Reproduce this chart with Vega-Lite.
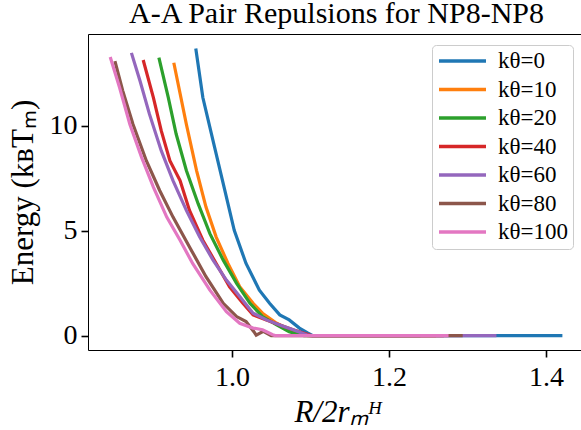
{
  "$schema": "https://vega.github.io/schema/vega-lite/v6.json",
  "width": 497,
  "height": 316,
  "autosize": {"type": "none"},
  "padding": {"left": 88, "top": 34, "right": 0, "bottom": 80},
  "background": "white",
  "title": {"text": "A-A Pair Repulsions for NP8-NP8", "font": "Liberation Serif", "fontSize": 30, "fontWeight": "normal", "color": "black", "anchor": "middle", "offset": 5},
  "config": {
    "view": {"stroke": "black", "strokeWidth": 1},
    "axis": {"grid": false, "domain": false, "tickColor": "black", "tickWidth": 1.6, "tickSize": 7, "labelFont": "Liberation Serif", "labelFontSize": 28, "labelColor": "black", "titleFont": "Liberation Serif", "titleFontSize": 31, "titleFontWeight": "normal", "titleColor": "black"}
  },
  "data": {"values": [
    {"k":"kθ=0","x":0.954,"y":13.69},{"k":"kθ=0","x":0.963,"y":11.35},{"k":"kθ=0","x":0.978,"y":8.97},{"k":"kθ=0","x":0.991,"y":6.92},{"k":"kθ=0","x":1.003,"y":5.02},{"k":"kθ=0","x":1.018,"y":3.44},{"k":"kθ=0","x":1.035,"y":2.17},{"k":"kθ=0","x":1.048,"y":1.54},{"k":"kθ=0","x":1.061,"y":0.99},{"k":"kθ=0","x":1.073,"y":0.75},{"k":"kθ=0","x":1.086,"y":0.36},{"k":"kθ=0","x":1.097,"y":0.12},{"k":"kθ=0","x":1.103,"y":0},{"k":"kθ=0","x":1.421,"y":0},
    {"k":"kθ=10","x":0.926,"y":13.01},{"k":"kθ=10","x":0.942,"y":10.08},{"k":"kθ=10","x":0.955,"y":7.87},{"k":"kθ=10","x":0.967,"y":6.13},{"k":"kθ=10","x":0.980,"y":4.70},{"k":"kθ=10","x":0.995,"y":3.44},{"k":"kθ=10","x":1.010,"y":2.33},{"k":"kθ=10","x":1.027,"y":1.54},{"k":"kθ=10","x":1.039,"y":1.07},{"k":"kθ=10","x":1.057,"y":0.59},{"k":"kθ=10","x":1.073,"y":0.28},{"k":"kθ=10","x":1.090,"y":0.08},{"k":"kθ=10","x":1.097,"y":0},{"k":"kθ=10","x":1.26,"y":0},
    {"k":"kθ=20","x":0.907,"y":13.25},{"k":"kθ=20","x":0.919,"y":11.35},{"k":"kθ=20","x":0.929,"y":9.61},{"k":"kθ=20","x":0.942,"y":7.87},{"k":"kθ=20","x":0.957,"y":6.29},{"k":"kθ=20","x":0.972,"y":4.86},{"k":"kθ=20","x":0.989,"y":3.60},{"k":"kθ=20","x":1.006,"y":2.49},{"k":"kθ=20","x":1.023,"y":1.54},{"k":"kθ=20","x":1.039,"y":0.91},{"k":"kθ=20","x":1.057,"y":0.51},{"k":"kθ=20","x":1.073,"y":0.19},{"k":"kθ=20","x":1.086,"y":0.04},{"k":"kθ=20","x":1.092,"y":0},{"k":"kθ=20","x":1.24,"y":0},
    {"k":"kθ=40","x":0.887,"y":13.14},{"k":"kθ=40","x":0.900,"y":11.35},{"k":"kθ=40","x":0.910,"y":9.77},{"k":"kθ=40","x":0.921,"y":8.34},{"k":"kθ=40","x":0.934,"y":7.39},{"k":"kθ=40","x":0.946,"y":5.97},{"k":"kθ=40","x":0.963,"y":4.55},{"k":"kθ=40","x":0.980,"y":3.44},{"k":"kθ=40","x":0.997,"y":2.33},{"k":"kθ=40","x":1.014,"y":1.54},{"k":"kθ=40","x":1.027,"y":0.99},{"k":"kθ=40","x":1.044,"y":0.75},{"k":"kθ=40","x":1.061,"y":0.51},{"k":"kθ=40","x":1.078,"y":0.28},{"k":"kθ=40","x":1.095,"y":0.08},{"k":"kθ=40","x":1.101,"y":0},{"k":"kθ=40","x":1.27,"y":0},
    {"k":"kθ=60","x":0.872,"y":13.48},{"k":"kθ=60","x":0.883,"y":12.14},{"k":"kθ=60","x":0.895,"y":10.56},{"k":"kθ=60","x":0.910,"y":8.82},{"k":"kθ=60","x":0.925,"y":7.39},{"k":"kθ=60","x":0.942,"y":5.97},{"k":"kθ=60","x":0.959,"y":4.70},{"k":"kθ=60","x":0.976,"y":3.60},{"k":"kθ=60","x":0.993,"y":2.65},{"k":"kθ=60","x":1.010,"y":1.86},{"k":"kθ=60","x":1.027,"y":1.07},{"k":"kθ=60","x":1.044,"y":0.75},{"k":"kθ=60","x":1.061,"y":0.51},{"k":"kθ=60","x":1.078,"y":0.28},{"k":"kθ=60","x":1.095,"y":0.04},{"k":"kθ=60","x":1.099,"y":0},{"k":"kθ=60","x":1.337,"y":0},
    {"k":"kθ=80","x":0.851,"y":13.09},{"k":"kθ=80","x":0.861,"y":11.67},{"k":"kθ=80","x":0.874,"y":10.08},{"k":"kθ=80","x":0.891,"y":8.34},{"k":"kθ=80","x":0.908,"y":6.92},{"k":"kθ=80","x":0.925,"y":5.65},{"k":"kθ=80","x":0.946,"y":4.23},{"k":"kθ=80","x":0.967,"y":2.81},{"k":"kθ=80","x":0.989,"y":1.54},{"k":"kθ=80","x":1.006,"y":0.91},{"k":"kθ=80","x":1.018,"y":0.67},{"k":"kθ=80","x":1.028,"y":0.19},{"k":"kθ=80","x":1.031,"y":0.02},{"k":"kθ=80","x":1.040,"y":0.2},{"k":"kθ=80","x":1.050,"y":0},{"k":"kθ=80","x":1.294,"y":0},
    {"k":"kθ=100","x":0.845,"y":13.28},{"k":"kθ=100","x":0.857,"y":11.82},{"k":"kθ=100","x":0.870,"y":10.08},{"k":"kθ=100","x":0.885,"y":8.50},{"k":"kθ=100","x":0.900,"y":7.08},{"k":"kθ=100","x":0.917,"y":5.65},{"k":"kθ=100","x":0.934,"y":4.55},{"k":"kθ=100","x":0.950,"y":3.44},{"k":"kθ=100","x":0.972,"y":2.17},{"k":"kθ=100","x":0.993,"y":1.14},{"k":"kθ=100","x":1.010,"y":0.59},{"k":"kθ=100","x":1.027,"y":0.36},{"k":"kθ=100","x":1.039,"y":0.28},{"k":"kθ=100","x":1.052,"y":0.04},{"k":"kθ=100","x":1.055,"y":0},{"k":"kθ=100","x":1.276,"y":0}
  ]},
  "mark": {"type": "line", "strokeWidth": 3.2, "clip": true},
  "encoding": {
    "x": {"field": "x", "type": "quantitative", "scale": {"domain": [0.8167, 1.4498], "nice": false, "zero": false},
          "axis": {"values": [1.0, 1.2, 1.4], "format": ".1f", "labelPadding": 6, "title": "R/2rₘᴴ", "titleFontStyle": "italic", "titlePadding": 6}},
    "y": {"field": "y", "type": "quantitative", "scale": {"domain": [-0.685, 14.38], "nice": false, "zero": false},
          "axis": {"values": [0, 5, 10], "labelPadding": 4, "title": "Energy (kʙTₘ)", "titlePadding": 10}},
    "color": {"field": "k", "type": "nominal",
      "scale": {"domain": ["kθ=0","kθ=10","kθ=20","kθ=40","kθ=60","kθ=80","kθ=100"], "range": ["#1f77b4","#ff7f0e","#2ca02c","#d62728","#9467bd","#8c564b","#e377c2"]},
      "legend": {"title": null, "orient": "none", "legendX": 344, "legendY": 11, "symbolType": "stroke", "symbolSize": 2209, "symbolStrokeWidth": 3.5, "clipHeight": 22, "rowPadding": 5.5, "labelFont": "Liberation Serif", "labelFontSize": 23, "labelColor": "black", "labelOffset": 10, "fillColor": "white", "strokeColor": "#cccccc", "cornerRadius": 4, "padding": 5}
    }
  }
}
